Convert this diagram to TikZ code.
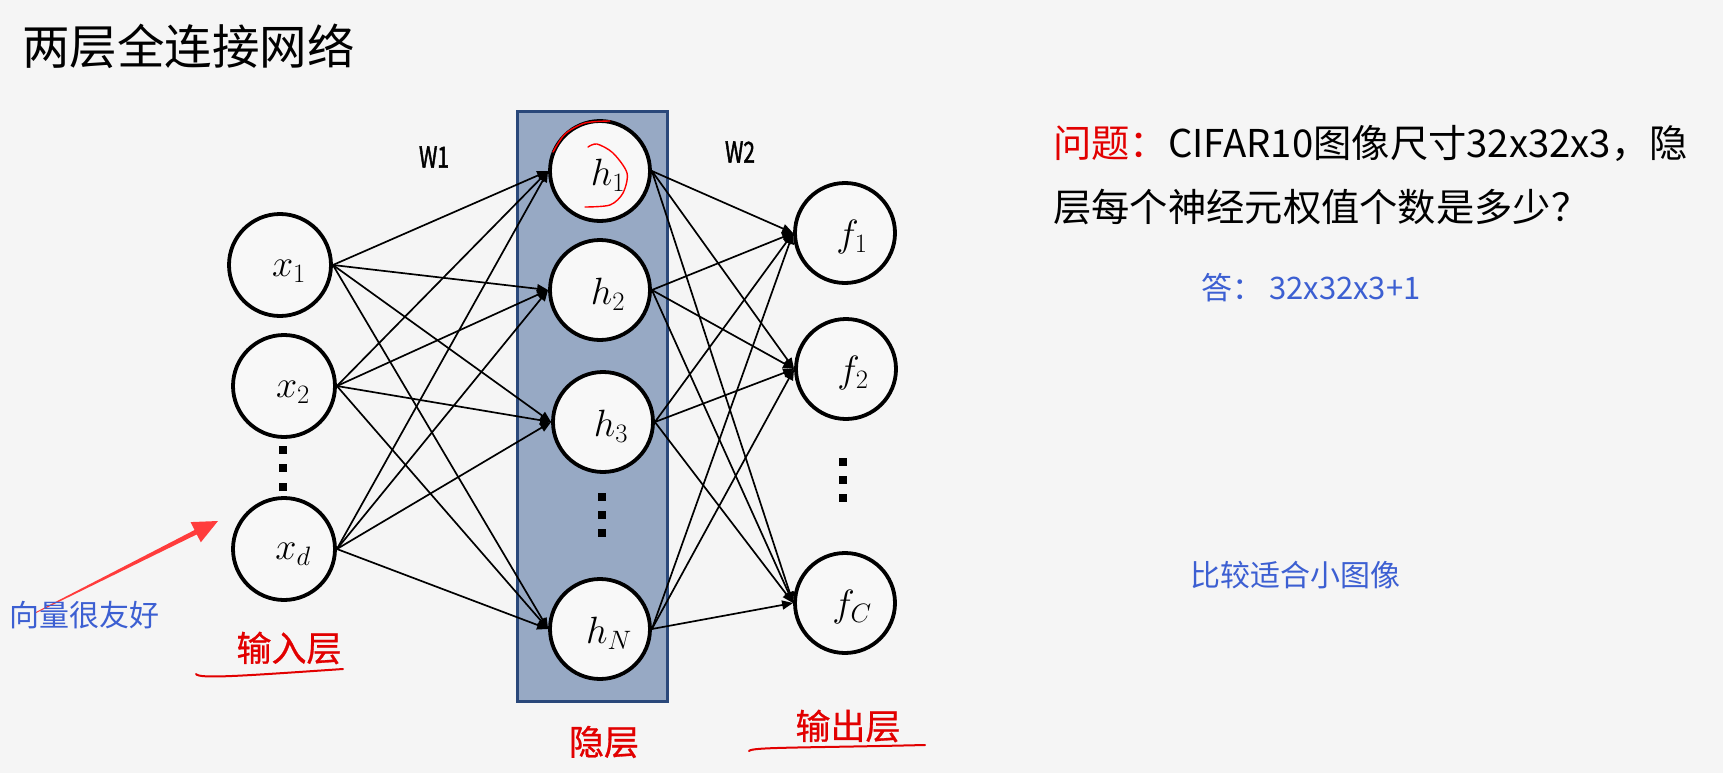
\RequirePackage{fix-cm}
\documentclass[tikz,border=0pt]{standalone}
\usepackage{fontspec}
\usetikzlibrary{arrows.meta}
\newfontfamily\cjk{Noto Sans CJK SC}
\newfontfamily\cjkb[FakeBold=0.8]{Noto Sans CJK SC}
\newfontfamily\wfont[FakeStretch=0.72,FakeBold=1.5]{Noto Sans CJK SC}
\definecolor{bg}{RGB}{245,245,245}
\definecolor{nfill}{RGB}{248,248,248}
\definecolor{boxfill}{RGB}{151,169,196}
\definecolor{boxborder}{RGB}{42,72,122}
\definecolor{qred}{RGB}{226,0,0}
\definecolor{arrred}{RGB}{255,60,60}
\definecolor{noteblue}{RGB}{60,95,210}
\begin{document}
\begin{tikzpicture}[x=1pt,y=-1pt,
  neuron/.style={circle, draw=black, line width=3.8pt, fill=nfill, minimum size=100pt, inner sep=0pt},
  lab/.style={font=\fontsize{38}{44}\selectfont, inner sep=0pt},
  conn/.style={line width=1.7pt, -{Triangle[length=11pt,width=9pt]}},
  dotsq/.style={rectangle, fill=black, minimum size=8pt, inner sep=0pt},
  redlab/.style={text=qred, font=\cjkb\fontsize{35}{40}\selectfont, inner sep=0pt},
  bluetxt/.style={text=noteblue, font=\cjk\fontsize{30}{34}\selectfont, inner sep=0pt, anchor=west},
  qtxt/.style={font=\cjk\fontsize{38.3}{42}\selectfont, inner sep=0pt, anchor=west},
  wlab/.style={font=\wfont\fontsize{29}{34}\selectfont, inner sep=0pt}
]
\fill[bg] (0,0) rectangle (1723,773);
\useasboundingbox (0,0) rectangle (1723,773);

% title
\node[font=\cjk\fontsize{47.5}{52}\selectfont, anchor=west, inner sep=0pt] (title) at (22,46) {两层全连接网络};

% hidden layer box
\node[draw=boxborder, fill=boxfill, line width=3pt, minimum width=150pt, minimum height=589pt, inner sep=0pt] (hbox) at (592,406.5) {};

% neurons
\node[neuron, minimum size=102pt] (x1) at (280,265) {};
\node[neuron, minimum size=102pt] (x2) at (284,386) {};
\node[neuron, minimum size=102pt] (xd) at (284,549) {};
\node[neuron] (h1) at (600,171) {};
\node[neuron] (h2) at (600,290) {};
\node[neuron] (h3) at (603,422) {};
\node[neuron] (hN) at (600,629) {};
\node[neuron] (f1) at (845,233) {};
\node[neuron] (f2) at (846,369) {};
\node[neuron] (fC) at (845,603) {};

% labels inside neurons
\node[lab] (lx1) at (289,271) {$x_1$};
\node[lab] (lx2) at (293,392) {$x_2$};
\node[lab] (lxd) at (293,554) {$x_d$};
\node[lab] (lh1) at (608,175) {$h_1$};
\node[lab] (lh2) at (608,294) {$h_2$};
\node[lab] (lh3) at (611,426) {$h_3$};
\node[lab] (lhN) at (609,633) {$h_N$};
\node[lab] (lf1) at (852,237) {$f_1$};
\node[lab] (lf2) at (853,373) {$f_2$};
\node[lab] (lfC) at (852,607) {$f_C$};

% vertical dots
\node[dotsq] (di1) at (283,450) {};
\node[dotsq] (di2) at (283,468) {};
\node[dotsq] (di3) at (283,487) {};
\node[dotsq] (dh1) at (602,497) {};
\node[dotsq] (dh2) at (602,515) {};
\node[dotsq] (dh3) at (602,533) {};
\node[dotsq] (do1) at (843,462) {};
\node[dotsq] (do2) at (843,480) {};
\node[dotsq] (do3) at (843,498) {};

% connections
\foreach \a in {x1,x2,xd}{
  \foreach \b in {h1,h2,h3,hN}{
    \draw[conn] (\a.east) -- (\b.west);
  }
}
\foreach \a in {h1,h2,h3,hN}{
  \foreach \b in {f1,f2,fC}{
    \draw[conn] (\a.east) -- (\b.west);
  }
}

% weight labels
\node[wlab] (w1) at (434,157) {W1};
\node[wlab] (w2) at (740,152) {W2};

% layer labels
\node[redlab] (lin) at (289,648) {输入层};
\node[redlab] (lhid) at (604,742) {隐层};
\node[redlab] (lout) at (848,726) {输出层};

% red handwritten marks
\draw[qred, line width=2pt, line cap=round] (196,674) .. controls (199,679) and (240,676) .. (343,669);
\draw[qred, line width=2pt, line cap=round] (749,751) .. controls (752,747) and (800,748) .. (925,745);
\draw[red, line width=1.4pt, line cap=round] plot[smooth] coordinates {(588,147) (597,144) (613,153) (627,173) (623,193) (610,205) (585,207)};
\draw[red, line width=1.4pt, line cap=round] plot[smooth] coordinates {(553,152) (565,134) (585,123) (610,121)};

% red annotation arrow
\fill[arrred] (34.8,612.6) -- (194.6,530.0) -- (190.6,522.1) -- (218,521) -- (200.8,542.3) -- (196.8,534.4) -- (35.2,613.4) -- cycle;
\node[bluetxt] (note1) at (9,615) {向量很友好};

% question text
\node[qtxt] (q1) at (1053,143) {{\color{qred}问题：}CIFAR10图像尺寸32x32x3，隐};
\node[qtxt] (q2) at (1053,207) {层每个神经元权值个数是多少？};
\node[bluetxt, font=\cjk\fontsize{31}{34}\selectfont] (ans) at (1201,288) {答：\hspace{6pt}32x32x3+1};
\node[bluetxt] (note2) at (1190,575) {比较适合小图像};
\end{tikzpicture}
\end{document}
